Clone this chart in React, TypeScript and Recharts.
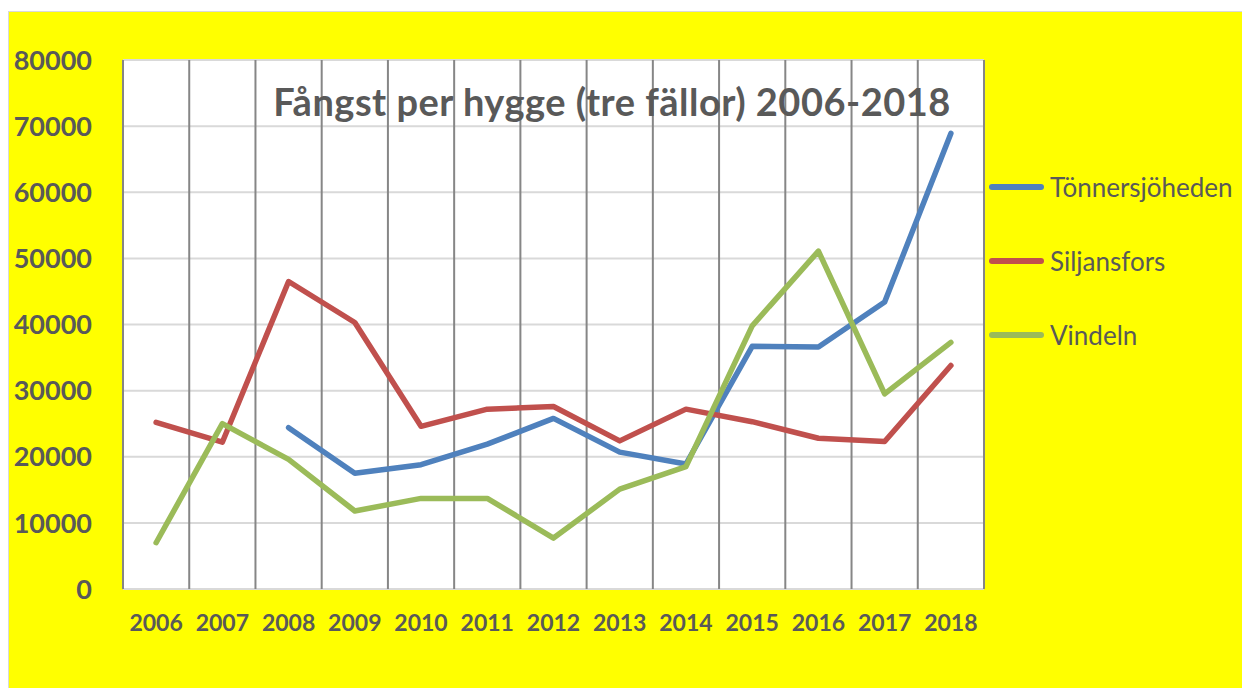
import React from "react";
import { LineChart, Line, XAxis, YAxis, CartesianGrid } from "recharts";

const years = ["2006", "2007", "2008", "2009", "2010", "2011", "2012", "2013", "2014", "2015", "2016", "2017", "2018"];

const tonnersjoheden = [null, null, 24400, 17500, 18800, 21900, 25800, 20700, 18900, 36700, 36600, 43400, 68900];
const siljansfors = [25200, 22200, 46500, 40300, 24600, 27200, 27600, 22400, 27200, 25300, 22800, 22300, 33800];
const vindeln = [7000, 25000, 19600, 11800, 13700, 13700, 7700, 15100, 18500, 39800, 51100, 29500, 37300];

const yTicks = [0, 10000, 20000, 30000, 40000, 50000, 60000, 70000, 80000];

const SERIES = [
  { key: "t", name: "Tönnersjöheden", color: "#4f81bd" },
  { key: "s", name: "Siljansfors", color: "#c0504d" },
  { key: "v", name: "Vindeln", color: "#9bbb59" },
];

const data = years.map((year, i) => ({
  year,
  t: tonnersjoheden[i],
  s: siljansfors[i],
  v: vindeln[i],
}));

const FONT = "Lato, 'Open Sans', sans-serif";
const TEXT = "#595959";

const CHART_W = 1233;
const CHART_H = 676;
const X_H = 30;
const MARGIN = { top: 48, right: 258, bottom: 99 - X_H, left: 0 };
const Y_W = 114;
// half a category band on each side so the points sit in the middle of each column
const HALF_BAND = (CHART_W - MARGIN.right - Y_W) / years.length / 2;

const YTick = (props: any) => {
  const { x, y, payload } = props;
  return (
    <text x={x} y={y} dy="0.36em" textAnchor="end" fill={TEXT} fontSize={27} fontWeight={700} fontFamily={FONT}>
      {payload.value}
    </text>
  );
};

const XTick = (props: any) => {
  const { x, y, payload } = props;
  return (
    <text x={x} y={y} dy="0.36em" textAnchor="middle" fill={TEXT} fontSize={23} fontWeight={700} fontFamily={FONT}>
      {payload.value}
    </text>
  );
};

// vertical grid lines sit on the category boundaries, not the centres
const boundaryLines = ({ offset }: any) =>
  Array.from({ length: years.length + 1 }, (_, i) => offset.left + (offset.width * i) / years.length);

export default function App() {
  return (
    <div
      style={{
        position: "fixed",
        left: 8,
        top: 11,
        width: 1234,
        height: 677,
        background: "#ffff00",
        borderTop: "1px solid #d9d9d9",
        borderLeft: "1px solid #d9d9d9",
        boxSizing: "border-box",
        fontFamily: FONT,
      }}
    >
      <LineChart
        width={CHART_W}
        height={CHART_H}
        data={data}
        margin={MARGIN}
        style={{ position: "absolute", left: 0, top: 0 }}
      >
        <CartesianGrid horizontal vertical={false} stroke="#d9d9d9" strokeWidth={2} fill="#ffffff" fillOpacity={1} />
        <CartesianGrid horizontal={false} vertical stroke="#868686" strokeWidth={2} verticalCoordinatesGenerator={boundaryLines} />
        <XAxis
          dataKey="year"
          height={X_H}
          axisLine={false}
          tickLine={false}
          tickSize={0}
          tickMargin={34}
          tick={<XTick />}
          interval={0}
          padding={{ left: HALF_BAND, right: HALF_BAND }}
        />
        <YAxis
          width={Y_W}
          domain={[0, 80000]}
          ticks={yTicks}
          axisLine={false}
          tickLine={false}
          tickSize={0}
          tickMargin={31}
          tick={<YTick />}
          interval={0}
        />
        {SERIES.map((s) => (
          <Line
            key={s.key}
            dataKey={s.key}
            name={s.name}
            stroke={s.color}
            strokeWidth={5.5}
            strokeLinecap="round"
            strokeLinejoin="round"
            dot={false}
            activeDot={false}
            isAnimationActive={false}
          />
        ))}
      </LineChart>
      <div
        style={{
          position: "absolute",
          left: 603,
          top: 67,
          transform: "translateX(-50%)",
          whiteSpace: "nowrap",
          fontSize: 38,
          lineHeight: 1.2,
          fontWeight: 700,
          letterSpacing: 0.5,
          color: TEXT,
        }}
      >
        Fångst per hygge (tre fällor) 2006-2018
      </div>
      {SERIES.map((s, i) => (
        <div
          key={s.key}
          style={{
            position: "absolute",
            left: 980,
            top: 175 + i * 74 - 16,
            height: 32,
            display: "flex",
            alignItems: "center",
            whiteSpace: "nowrap",
          }}
        >
          <div style={{ width: 55, height: 6, borderRadius: 3, background: s.color }} />
          <span style={{ marginLeft: 6, fontSize: 26, color: TEXT, lineHeight: 1 }}>{s.name}</span>
        </div>
      ))}
    </div>
  );
}
